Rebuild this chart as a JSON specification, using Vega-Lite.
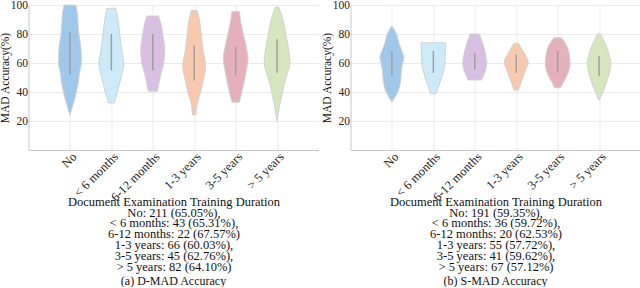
{
  "$schema": "https://vega.github.io/schema/vega-lite/v6.json",
  "padding": {"left": -1.5, "top": -1, "right": 0, "bottom": 0},
  "config": {
    "font": "Liberation Serif",
    "view": {"stroke": null},
    "axis": {"labelFont": "Liberation Serif", "titleFont": "Liberation Serif", "labelFontSize": 11.5, "titleFontSize": 11.5, "titleFontWeight": "normal", "labelColor": "#222222", "titleColor": "#111111", "domainColor": "#c8c8c8", "gridColor": "#ebebeb", "ticks": false, "tickSize": 0, "labelOverlap": false},
    "axisX": {"labelFontSize": 12.5, "titleFontSize": 12.5},
    "title": {"font": "Liberation Serif", "fontSize": 12, "fontWeight": "normal", "color": "#111111"}
  },
  "datasets": {
    "violin": [
      {"p": "a", "g": "No", "acc": 24, "w": 0.0},
      {"p": "a", "g": "No", "acc": 28, "w": 0.08},
      {"p": "a", "g": "No", "acc": 34, "w": 0.21},
      {"p": "a", "g": "No", "acc": 40, "w": 0.31},
      {"p": "a", "g": "No", "acc": 46, "w": 0.40},
      {"p": "a", "g": "No", "acc": 53, "w": 0.46},
      {"p": "a", "g": "No", "acc": 60, "w": 0.55},
      {"p": "a", "g": "No", "acc": 70, "w": 0.53},
      {"p": "a", "g": "No", "acc": 80, "w": 0.43},
      {"p": "a", "g": "No", "acc": 87, "w": 0.39},
      {"p": "a", "g": "No", "acc": 93, "w": 0.37},
      {"p": "a", "g": "No", "acc": 100, "w": 0.28},
      {"p": "a", "g": "< 6 months", "acc": 32.5, "w": 0.15},
      {"p": "a", "g": "< 6 months", "acc": 34, "w": 0.17},
      {"p": "a", "g": "< 6 months", "acc": 38, "w": 0.26},
      {"p": "a", "g": "< 6 months", "acc": 45, "w": 0.38},
      {"p": "a", "g": "< 6 months", "acc": 55, "w": 0.55},
      {"p": "a", "g": "< 6 months", "acc": 60, "w": 0.60},
      {"p": "a", "g": "< 6 months", "acc": 69, "w": 0.50},
      {"p": "a", "g": "< 6 months", "acc": 80, "w": 0.40},
      {"p": "a", "g": "< 6 months", "acc": 89, "w": 0.33},
      {"p": "a", "g": "< 6 months", "acc": 97.7, "w": 0.22},
      {"p": "a", "g": "6-12 months", "acc": 40.6, "w": 0.22},
      {"p": "a", "g": "6-12 months", "acc": 45, "w": 0.28},
      {"p": "a", "g": "6-12 months", "acc": 53, "w": 0.40},
      {"p": "a", "g": "6-12 months", "acc": 60, "w": 0.53},
      {"p": "a", "g": "6-12 months", "acc": 69, "w": 0.58},
      {"p": "a", "g": "6-12 months", "acc": 72.8, "w": 0.56},
      {"p": "a", "g": "6-12 months", "acc": 80, "w": 0.48},
      {"p": "a", "g": "6-12 months", "acc": 85.5, "w": 0.42},
      {"p": "a", "g": "6-12 months", "acc": 92.4, "w": 0.28},
      {"p": "a", "g": "1-3 years", "acc": 24.2, "w": 0.08},
      {"p": "a", "g": "1-3 years", "acc": 33.7, "w": 0.17},
      {"p": "a", "g": "1-3 years", "acc": 40, "w": 0.31},
      {"p": "a", "g": "1-3 years", "acc": 50, "w": 0.46},
      {"p": "a", "g": "1-3 years", "acc": 57, "w": 0.55},
      {"p": "a", "g": "1-3 years", "acc": 60, "w": 0.54},
      {"p": "a", "g": "1-3 years", "acc": 69, "w": 0.42},
      {"p": "a", "g": "1-3 years", "acc": 80, "w": 0.34},
      {"p": "a", "g": "1-3 years", "acc": 89, "w": 0.26},
      {"p": "a", "g": "1-3 years", "acc": 96.3, "w": 0.14},
      {"p": "a", "g": "3-5 years", "acc": 33, "w": 0.18},
      {"p": "a", "g": "3-5 years", "acc": 40, "w": 0.30},
      {"p": "a", "g": "3-5 years", "acc": 47.6, "w": 0.42},
      {"p": "a", "g": "3-5 years", "acc": 57, "w": 0.54},
      {"p": "a", "g": "3-5 years", "acc": 62.6, "w": 0.60},
      {"p": "a", "g": "3-5 years", "acc": 69, "w": 0.54},
      {"p": "a", "g": "3-5 years", "acc": 80, "w": 0.37},
      {"p": "a", "g": "3-5 years", "acc": 89, "w": 0.24},
      {"p": "a", "g": "3-5 years", "acc": 95.4, "w": 0.18},
      {"p": "a", "g": "> 5 years", "acc": 20, "w": 0.0},
      {"p": "a", "g": "> 5 years", "acc": 29, "w": 0.10},
      {"p": "a", "g": "> 5 years", "acc": 38.4, "w": 0.24},
      {"p": "a", "g": "> 5 years", "acc": 45.3, "w": 0.34},
      {"p": "a", "g": "> 5 years", "acc": 53, "w": 0.50},
      {"p": "a", "g": "> 5 years", "acc": 60, "w": 0.62},
      {"p": "a", "g": "> 5 years", "acc": 69, "w": 0.56},
      {"p": "a", "g": "> 5 years", "acc": 80, "w": 0.42},
      {"p": "a", "g": "> 5 years", "acc": 89, "w": 0.30},
      {"p": "a", "g": "> 5 years", "acc": 98.6, "w": 0.08},
      {"p": "b", "g": "No", "acc": 33, "w": 0.0},
      {"p": "b", "g": "No", "acc": 36, "w": 0.12},
      {"p": "b", "g": "No", "acc": 40, "w": 0.28},
      {"p": "b", "g": "No", "acc": 47.6, "w": 0.42},
      {"p": "b", "g": "No", "acc": 55, "w": 0.46},
      {"p": "b", "g": "No", "acc": 60, "w": 0.52},
      {"p": "b", "g": "No", "acc": 64, "w": 0.58},
      {"p": "b", "g": "No", "acc": 66, "w": 0.54},
      {"p": "b", "g": "No", "acc": 72.8, "w": 0.36},
      {"p": "b", "g": "No", "acc": 80, "w": 0.22},
      {"p": "b", "g": "No", "acc": 85.5, "w": 0.0},
      {"p": "b", "g": "< 6 months", "acc": 38.8, "w": 0.12},
      {"p": "b", "g": "< 6 months", "acc": 45, "w": 0.28},
      {"p": "b", "g": "< 6 months", "acc": 53, "w": 0.46},
      {"p": "b", "g": "< 6 months", "acc": 60, "w": 0.56},
      {"p": "b", "g": "< 6 months", "acc": 69, "w": 0.58},
      {"p": "b", "g": "< 6 months", "acc": 74, "w": 0.60},
      {"p": "b", "g": "6-12 months", "acc": 48.3, "w": 0.32},
      {"p": "b", "g": "6-12 months", "acc": 55, "w": 0.52},
      {"p": "b", "g": "6-12 months", "acc": 60, "w": 0.58},
      {"p": "b", "g": "6-12 months", "acc": 66, "w": 0.52},
      {"p": "b", "g": "6-12 months", "acc": 72.8, "w": 0.40},
      {"p": "b", "g": "6-12 months", "acc": 80, "w": 0.22},
      {"p": "b", "g": "1-3 years", "acc": 41.3, "w": 0.10},
      {"p": "b", "g": "1-3 years", "acc": 50, "w": 0.32},
      {"p": "b", "g": "1-3 years", "acc": 57, "w": 0.50},
      {"p": "b", "g": "1-3 years", "acc": 60, "w": 0.58},
      {"p": "b", "g": "1-3 years", "acc": 69, "w": 0.30},
      {"p": "b", "g": "1-3 years", "acc": 73.6, "w": 0.10},
      {"p": "b", "g": "3-5 years", "acc": 43, "w": 0.14},
      {"p": "b", "g": "3-5 years", "acc": 46.4, "w": 0.26},
      {"p": "b", "g": "3-5 years", "acc": 53, "w": 0.50},
      {"p": "b", "g": "3-5 years", "acc": 59.4, "w": 0.60},
      {"p": "b", "g": "3-5 years", "acc": 66, "w": 0.56},
      {"p": "b", "g": "3-5 years", "acc": 72.8, "w": 0.40},
      {"p": "b", "g": "3-5 years", "acc": 77.4, "w": 0.18},
      {"p": "b", "g": "> 5 years", "acc": 34.3, "w": 0.0},
      {"p": "b", "g": "> 5 years", "acc": 40.6, "w": 0.20},
      {"p": "b", "g": "> 5 years", "acc": 47.6, "w": 0.38},
      {"p": "b", "g": "> 5 years", "acc": 57, "w": 0.55},
      {"p": "b", "g": "> 5 years", "acc": 60, "w": 0.56},
      {"p": "b", "g": "> 5 years", "acc": 66, "w": 0.48},
      {"p": "b", "g": "> 5 years", "acc": 72.8, "w": 0.32},
      {"p": "b", "g": "> 5 years", "acc": 80, "w": 0.07}
    ],
    "box": [
      {"p": "a", "g": "No", "q1": 52, "q3": 81},
      {"p": "a", "g": "< 6 months", "q1": 55, "q3": 80},
      {"p": "a", "g": "6-12 months", "q1": 55, "q3": 80},
      {"p": "a", "g": "1-3 years", "q1": 48, "q3": 72},
      {"p": "a", "g": "3-5 years", "q1": 51.5, "q3": 71},
      {"p": "a", "g": "> 5 years", "q1": 53.3, "q3": 76.3},
      {"p": "b", "g": "No", "q1": 51, "q3": 68.3},
      {"p": "b", "g": "< 6 months", "q1": 53.3, "q3": 68.3},
      {"p": "b", "g": "6-12 months", "q1": 55.6, "q3": 67.1},
      {"p": "b", "g": "1-3 years", "q1": 53.3, "q3": 66},
      {"p": "b", "g": "3-5 years", "q1": 53.3, "q3": 68.3},
      {"p": "b", "g": "> 5 years", "q1": 51, "q3": 64.8}
    ]
  },
  "spacing": 2,
  "hconcat": [
    {
      "width": 290, "height": 145,
      "title": {"text": "(a) D-MAD Accuracy", "orient": "bottom", "offset": 3},
      "resolve": {"scale": {"x": "independent"}},
      "layer": [
        {"data": {"name": "box"}, "transform": [{"filter": "datum.p === 'a'"}],
         "mark": {"type": "rule", "color": "#9a9a9a", "strokeWidth": 2, "opacity": 0},
         "encoding": {
           "x": {"field": "g", "type": "nominal", "scale": {"type": "point", "padding": 1, "domain": ["No", "< 6 months", "6-12 months", "1-3 years", "3-5 years", "> 5 years"]},
                 "axis": {"labelAngle": -45, "grid": true, "labelPadding": 0, "titlePadding": -8, "titleLineHeight": 10.8, "title": ["Document Examination Training Duration", "No: 211 (65.05%),", "< 6 months: 43 (65.31%),", "6-12 months: 22 (67.57%)", "1-3 years: 66 (60.03%),", "3-5 years: 45 (62.76%),", "> 5 years: 82 (64.10%)"]}},
           "y": {"field": "q1", "type": "quantitative", "scale": {"domain": [0, 100], "nice": false}, "axis": {"values": [20, 40, 60, 80, 100], "title": "MAD Accuracy(%)", "grid": true, "labelPadding": 1, "titlePadding": 0, "labelOverlap": false}},
           "y2": {"field": "q3"}
         }},
        {"data": {"name": "violin"}, "transform": [{"filter": "datum.p === 'a' && datum.g === 'No'"}],
         "mark": {"type": "area", "orient": "horizontal", "interpolate": "monotone", "fill": "#9fc8ea", "stroke": "#d2d2d2", "strokeWidth": 1},
         "encoding": {"y": {"field": "acc", "type": "quantitative", "axis": {"values": [20, 40, 60, 80, 100], "title": "MAD Accuracy(%)", "grid": true, "labelPadding": 1, "titlePadding": 0, "labelOverlap": false}}, "x": {"field": "w", "type": "quantitative", "stack": "center", "scale": {"domain": [-0.725, 6.275], "nice": false, "zero": false}, "axis": null}}},
        {"data": {"name": "violin"}, "transform": [{"filter": "datum.p === 'a' && datum.g === '< 6 months'"}],
         "mark": {"type": "area", "orient": "horizontal", "interpolate": "monotone", "fill": "#cdeaf8", "stroke": "#d2d2d2", "strokeWidth": 1},
         "encoding": {"y": {"field": "acc", "type": "quantitative", "axis": {"values": [20, 40, 60, 80, 100], "title": "MAD Accuracy(%)", "grid": true, "labelPadding": 1, "titlePadding": 0, "labelOverlap": false}}, "x": {"field": "w", "type": "quantitative", "stack": "center", "scale": {"domain": [-1.7, 5.3], "nice": false, "zero": false}, "axis": null}}},
        {"data": {"name": "violin"}, "transform": [{"filter": "datum.p === 'a' && datum.g === '6-12 months'"}],
         "mark": {"type": "area", "orient": "horizontal", "interpolate": "monotone", "fill": "#d9bfe2", "stroke": "#d2d2d2", "strokeWidth": 1},
         "encoding": {"y": {"field": "acc", "type": "quantitative", "axis": {"values": [20, 40, 60, 80, 100], "title": "MAD Accuracy(%)", "grid": true, "labelPadding": 1, "titlePadding": 0, "labelOverlap": false}}, "x": {"field": "w", "type": "quantitative", "stack": "center", "scale": {"domain": [-2.71, 4.29], "nice": false, "zero": false}, "axis": null}}},
        {"data": {"name": "violin"}, "transform": [{"filter": "datum.p === 'a' && datum.g === '1-3 years'"}],
         "mark": {"type": "area", "orient": "horizontal", "interpolate": "monotone", "fill": "#f7c9ae", "stroke": "#d2d2d2", "strokeWidth": 1},
         "encoding": {"y": {"field": "acc", "type": "quantitative", "axis": {"values": [20, 40, 60, 80, 100], "title": "MAD Accuracy(%)", "grid": true, "labelPadding": 1, "titlePadding": 0, "labelOverlap": false}}, "x": {"field": "w", "type": "quantitative", "stack": "center", "scale": {"domain": [-3.725, 3.275], "nice": false, "zero": false}, "axis": null}}},
        {"data": {"name": "violin"}, "transform": [{"filter": "datum.p === 'a' && datum.g === '3-5 years'"}],
         "mark": {"type": "area", "orient": "horizontal", "interpolate": "monotone", "fill": "#e4b0bc", "stroke": "#d2d2d2", "strokeWidth": 1},
         "encoding": {"y": {"field": "acc", "type": "quantitative", "axis": {"values": [20, 40, 60, 80, 100], "title": "MAD Accuracy(%)", "grid": true, "labelPadding": 1, "titlePadding": 0, "labelOverlap": false}}, "x": {"field": "w", "type": "quantitative", "stack": "center", "scale": {"domain": [-4.7, 2.3], "nice": false, "zero": false}, "axis": null}}},
        {"data": {"name": "violin"}, "transform": [{"filter": "datum.p === 'a' && datum.g === '> 5 years'"}],
         "mark": {"type": "area", "orient": "horizontal", "interpolate": "monotone", "fill": "#d6e7c0", "stroke": "#d2d2d2", "strokeWidth": 1},
         "encoding": {"y": {"field": "acc", "type": "quantitative", "axis": {"values": [20, 40, 60, 80, 100], "title": "MAD Accuracy(%)", "grid": true, "labelPadding": 1, "titlePadding": 0, "labelOverlap": false}}, "x": {"field": "w", "type": "quantitative", "stack": "center", "scale": {"domain": [-5.69, 1.31], "nice": false, "zero": false}, "axis": null}}},
        {"data": {"name": "box"}, "transform": [{"filter": "datum.p === 'a'"}],
         "mark": {"type": "rule", "color": "#a0a0a0", "strokeWidth": 1.5},
         "encoding": {
           "x": {"field": "g", "type": "nominal", "scale": {"type": "point", "padding": 1, "domain": ["No", "< 6 months", "6-12 months", "1-3 years", "3-5 years", "> 5 years"]}, "axis": null},
           "y": {"field": "q1", "type": "quantitative", "axis": {"values": [20, 40, 60, 80, 100], "title": "MAD Accuracy(%)", "grid": true, "labelPadding": 1, "titlePadding": 0, "labelOverlap": false}},
           "y2": {"field": "q3"}
         }}
      ]
    },
    {
      "width": 290, "height": 145,
      "title": {"text": "(b) S-MAD Accuracy", "orient": "bottom", "offset": 3},
      "resolve": {"scale": {"x": "independent"}},
      "layer": [
        {"data": {"name": "box"}, "transform": [{"filter": "datum.p === 'b'"}],
         "mark": {"type": "rule", "color": "#9a9a9a", "strokeWidth": 2, "opacity": 0},
         "encoding": {
           "x": {"field": "g", "type": "nominal", "scale": {"type": "point", "padding": 1, "domain": ["No", "< 6 months", "6-12 months", "1-3 years", "3-5 years", "> 5 years"]},
                 "axis": {"labelAngle": -45, "grid": true, "labelPadding": 0, "titlePadding": -8, "titleLineHeight": 10.8, "title": ["Document Examination Training Duration", "No: 191 (59.35%),", "< 6 months: 36 (59.72%),", "6-12 months: 20 (62.53%)", "1-3 years: 55 (57.72%),", "3-5 years: 41 (59.62%),", "> 5 years: 67 (57.12%)"]}},
           "y": {"field": "q1", "type": "quantitative", "scale": {"domain": [0, 100], "nice": false}, "axis": {"values": [20, 40, 60, 80, 100], "title": "MAD Accuracy(%)", "grid": true, "labelPadding": 1, "titlePadding": 0, "labelOverlap": false}},
           "y2": {"field": "q3"}
         }},
        {"data": {"name": "violin"}, "transform": [{"filter": "datum.p === 'b' && datum.g === 'No'"}],
         "mark": {"type": "area", "orient": "horizontal", "interpolate": "monotone", "fill": "#9fc8ea", "stroke": "#d2d2d2", "strokeWidth": 1},
         "encoding": {"y": {"field": "acc", "type": "quantitative", "axis": {"values": [20, 40, 60, 80, 100], "title": "MAD Accuracy(%)", "grid": true, "labelPadding": 1, "titlePadding": 0, "labelOverlap": false}}, "x": {"field": "w", "type": "quantitative", "stack": "center", "scale": {"domain": [-0.71, 6.29], "nice": false, "zero": false}, "axis": null}}},
        {"data": {"name": "violin"}, "transform": [{"filter": "datum.p === 'b' && datum.g === '< 6 months'"}],
         "mark": {"type": "area", "orient": "horizontal", "interpolate": "monotone", "fill": "#cdeaf8", "stroke": "#d2d2d2", "strokeWidth": 1},
         "encoding": {"y": {"field": "acc", "type": "quantitative", "axis": {"values": [20, 40, 60, 80, 100], "title": "MAD Accuracy(%)", "grid": true, "labelPadding": 1, "titlePadding": 0, "labelOverlap": false}}, "x": {"field": "w", "type": "quantitative", "stack": "center", "scale": {"domain": [-1.7, 5.3], "nice": false, "zero": false}, "axis": null}}},
        {"data": {"name": "violin"}, "transform": [{"filter": "datum.p === 'b' && datum.g === '6-12 months'"}],
         "mark": {"type": "area", "orient": "horizontal", "interpolate": "monotone", "fill": "#d9bfe2", "stroke": "#d2d2d2", "strokeWidth": 1},
         "encoding": {"y": {"field": "acc", "type": "quantitative", "axis": {"values": [20, 40, 60, 80, 100], "title": "MAD Accuracy(%)", "grid": true, "labelPadding": 1, "titlePadding": 0, "labelOverlap": false}}, "x": {"field": "w", "type": "quantitative", "stack": "center", "scale": {"domain": [-2.71, 4.29], "nice": false, "zero": false}, "axis": null}}},
        {"data": {"name": "violin"}, "transform": [{"filter": "datum.p === 'b' && datum.g === '1-3 years'"}],
         "mark": {"type": "area", "orient": "horizontal", "interpolate": "monotone", "fill": "#f7c9ae", "stroke": "#d2d2d2", "strokeWidth": 1},
         "encoding": {"y": {"field": "acc", "type": "quantitative", "axis": {"values": [20, 40, 60, 80, 100], "title": "MAD Accuracy(%)", "grid": true, "labelPadding": 1, "titlePadding": 0, "labelOverlap": false}}, "x": {"field": "w", "type": "quantitative", "stack": "center", "scale": {"domain": [-3.71, 3.29], "nice": false, "zero": false}, "axis": null}}},
        {"data": {"name": "violin"}, "transform": [{"filter": "datum.p === 'b' && datum.g === '3-5 years'"}],
         "mark": {"type": "area", "orient": "horizontal", "interpolate": "monotone", "fill": "#e4b0bc", "stroke": "#d2d2d2", "strokeWidth": 1},
         "encoding": {"y": {"field": "acc", "type": "quantitative", "axis": {"values": [20, 40, 60, 80, 100], "title": "MAD Accuracy(%)", "grid": true, "labelPadding": 1, "titlePadding": 0, "labelOverlap": false}}, "x": {"field": "w", "type": "quantitative", "stack": "center", "scale": {"domain": [-4.7, 2.3], "nice": false, "zero": false}, "axis": null}}},
        {"data": {"name": "violin"}, "transform": [{"filter": "datum.p === 'b' && datum.g === '> 5 years'"}],
         "mark": {"type": "area", "orient": "horizontal", "interpolate": "monotone", "fill": "#d6e7c0", "stroke": "#d2d2d2", "strokeWidth": 1},
         "encoding": {"y": {"field": "acc", "type": "quantitative", "axis": {"values": [20, 40, 60, 80, 100], "title": "MAD Accuracy(%)", "grid": true, "labelPadding": 1, "titlePadding": 0, "labelOverlap": false}}, "x": {"field": "w", "type": "quantitative", "stack": "center", "scale": {"domain": [-5.72, 1.28], "nice": false, "zero": false}, "axis": null}}},
        {"data": {"name": "box"}, "transform": [{"filter": "datum.p === 'b'"}],
         "mark": {"type": "rule", "color": "#a0a0a0", "strokeWidth": 1.5},
         "encoding": {
           "x": {"field": "g", "type": "nominal", "scale": {"type": "point", "padding": 1, "domain": ["No", "< 6 months", "6-12 months", "1-3 years", "3-5 years", "> 5 years"]}, "axis": null},
           "y": {"field": "q1", "type": "quantitative", "axis": {"values": [20, 40, 60, 80, 100], "title": "MAD Accuracy(%)", "grid": true, "labelPadding": 1, "titlePadding": 0, "labelOverlap": false}},
           "y2": {"field": "q3"}
         }}
      ]
    }
  ]
}
